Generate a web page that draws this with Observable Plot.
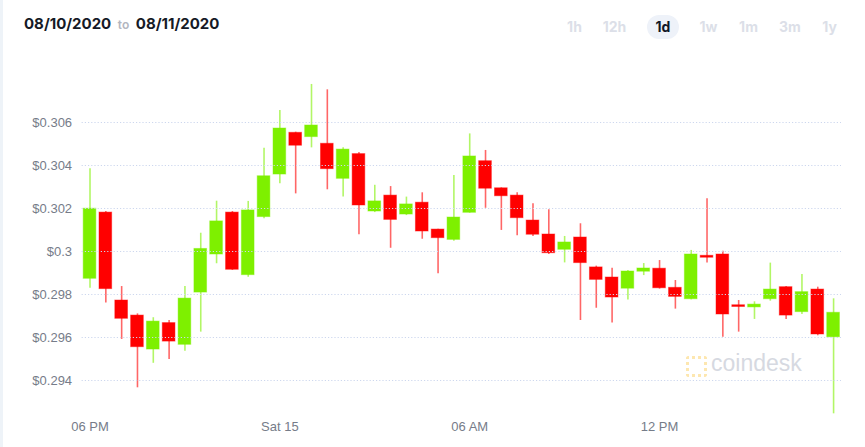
<!DOCTYPE html>
<html>
<head>
<meta charset="utf-8">
<script src="https://cdn.jsdelivr.net/npm/d3@7"></script>
<script src="https://cdn.jsdelivr.net/npm/@observablehq/plot@0.6"></script>
<style>
  html, body { margin: 0; padding: 0; background: #fff; }
  #wrap { position: relative; width: 865px; height: 447px; overflow: hidden; background: #fff; }
  #strip { position: absolute; left: 0; top: 0; width: 3px; height: 447px; background: #eef3f8; }
  .hdr { position: absolute; top: 14px; font-family: Inter, "Liberation Sans", sans-serif; font-weight: 700; font-size: 15px; color: #151a26; }
  .to { font-size: 12px; color: #b3b6c0; font-weight: 600; }
  .btn { position: absolute; top: 18px; transform: translateX(-50%); font-family: Inter, "Liberation Sans", sans-serif; font-weight: 700; font-size: 14px; color: #dcdfe8; }
  #pill { position: absolute; left: 647px; top: 15px; width: 32px; height: 24px; border-radius: 12px; background: #eef2f9; }
  #chart { position: absolute; left: 0; top: 60px; }
  #wm { position: absolute; left: 711px; top: 350px; font-family: "Liberation Sans", Arial, sans-serif; font-size: 23px; color: #d6d9e1; letter-spacing: 0px; }
  #logo { position: absolute; left: 686px; top: 356px; width: 15px; height: 15px; border: 3px dotted #fde7b0; border-radius: 3px; }
</style>
</head>
<body>
<div id="wrap">
  <div id="strip"></div>
  <div class="hdr" style="left:24px;">08/10/2020 <span class="to">&nbsp;to&nbsp;</span> 08/11/2020</div>
  <div id="pill"></div>
  <div class="btn" style="left:574.5px;">1h</div>
  <div class="btn" style="left:614.5px;">12h</div>
  <div class="btn" style="left:663px;color:#111827;">1d</div>
  <div class="btn" style="left:708.5px;">1w</div>
  <div class="btn" style="left:748.5px;">1m</div>
  <div class="btn" style="left:790px;">3m</div>
  <div class="btn" style="left:829.5px;">1y</div>
  <div id="chart"></div>
  <div id="logo"></div>
  <div id="wm">coindesk</div>
</div>
<script>
const times = ["18:00","18:30","19:00","19:30","20:00","20:30","21:00","21:30","22:00","22:30","23:00","23:30",
  "00:00","00:30","01:00","01:30","02:00","02:30","03:00","03:30","04:00","04:30","05:00","05:30",
  "06:00","06:30","07:00","07:30","08:00","08:30","09:00","09:30","10:00","10:30","11:00","11:30",
  "12:00","12:30","13:00","13:30","14:00","14:30","15:00","15:30","16:00","16:30","17:00","17:30"];
const open = [0.29873,0.30181,0.29772,0.29702,0.29544,0.29667,0.29566,0.29809,0.29986,0.30181,0.29890,0.30160,
  0.30358,0.30552,0.30532,0.30501,0.30338,0.30453,0.30186,0.30260,0.30172,0.30227,0.30102,0.30054,
  0.30180,0.30420,0.30294,0.30260,0.30144,0.30079,0.30008,0.30065,0.29926,0.29879,0.29827,0.29906,
  0.29920,0.29831,0.29778,0.29980,0.29986,0.29750,0.29740,0.29778,0.29834,0.29718,0.29823,0.29601];
const high = [0.30385,0.30186,0.29837,0.29710,0.29692,0.29679,0.29837,0.30085,0.30234,0.30186,0.30233,0.30480,
  0.30656,0.30555,0.30777,0.30752,0.30482,0.30460,0.30308,0.30302,0.30253,0.30273,0.30104,0.30353,
  0.30547,0.30470,0.30296,0.30273,0.30222,0.30194,0.30070,0.30129,0.29932,0.29922,0.29912,0.29944,
  0.29958,0.29865,0.30005,0.30245,0.30001,0.29772,0.29766,0.29946,0.29837,0.29893,0.29834,0.29780];
const low = [0.29829,0.29760,0.29591,0.29366,0.29480,0.29498,0.29536,0.29625,0.29943,0.29912,0.29880,0.30152,
  0.30315,0.30268,0.30482,0.30287,0.30253,0.30078,0.30181,0.30015,0.30167,0.30057,0.29896,0.30048,
  0.30178,0.30201,0.30098,0.30073,0.30070,0.29986,0.29947,0.29679,0.29736,0.29668,0.29775,0.29888,
  0.29825,0.29732,0.29775,0.29946,0.29601,0.29625,0.29684,0.29769,0.29684,0.29707,0.29608,0.29245];
const close = [0.30199,0.29825,0.29687,0.29555,0.29674,0.29581,0.29781,0.30012,0.30140,0.29915,0.30191,0.30350,
  0.30572,0.30492,0.30586,0.30383,0.30474,0.30214,0.30233,0.30147,0.30219,0.30093,0.30062,0.30158,
  0.30442,0.30292,0.30257,0.30155,0.30078,0.29992,0.30042,0.29946,0.29868,0.29786,0.29907,0.29921,
  0.29829,0.29789,0.29986,0.29971,0.29707,0.29742,0.29753,0.29823,0.29702,0.29811,0.29614,0.29715];

const yTicks = [0.294, 0.296, 0.298, 0.3, 0.302, 0.304, 0.306];
const yTickLabels = ["$0.294", "$0.296", "$0.298", "$0.3", "$0.302", "$0.304", "$0.306"];
const xTicks = ["18:00", "00:00", "06:00", "12:00"];
const xTickLabels = ["06 PM", "Sat 15", "06 AM", "12 PM"];

const GREEN = "#7ef000";
const RED = "#ff0000";

const candles = times.map((t, i) => ({
  t, open: open[i], high: high[i], low: low[i], close: close[i],
  color: close[i] >= open[i] ? GREEN : RED
}));

const chart = Plot.plot({
  width: 865,
  height: 387,
  marginTop: 19,
  marginBottom: 32.6,
  marginLeft: 81.6,
  marginRight: 24,
  style: { background: "transparent", fontFamily: "'Liberation Sans', Arial, sans-serif", fontSize: "13px", color: "#767c89" },
  x: { type: "band", domain: times, paddingInner: 0.2, paddingOuter: 0.1 },
  y: { domain: [0.2924, 0.3080] },
  marks: [
    Plot.ruleX(candles, { x: "t", y1: "low", y2: "high", stroke: "color", strokeWidth: 1.6, strokeOpacity: 0.6 }),
    Plot.barY(candles, { x: "t", y1: "open", y2: "close", fill: "color", stroke: "color", strokeOpacity: 0.45, strokeWidth: 1 }),
    Plot.gridY(yTicks, { stroke: "#cdd7ee", strokeOpacity: 1, strokeDasharray: "1.2,2", strokeWidth: 1 }),
    Plot.axisY({ ticks: yTicks, tickFormat: (d) => yTickLabels[yTicks.indexOf(d)], tickSize: 0, tickPadding: 10, label: null, fill: "#767c89" }),
    Plot.axisX({ ticks: xTicks, tickFormat: (d) => xTickLabels[xTicks.indexOf(d)], tickSize: 0, tickPadding: 7, label: null, fill: "#767c89" })
  ]
});
document.getElementById("chart").appendChild(chart);
</script>
</body>
</html>
